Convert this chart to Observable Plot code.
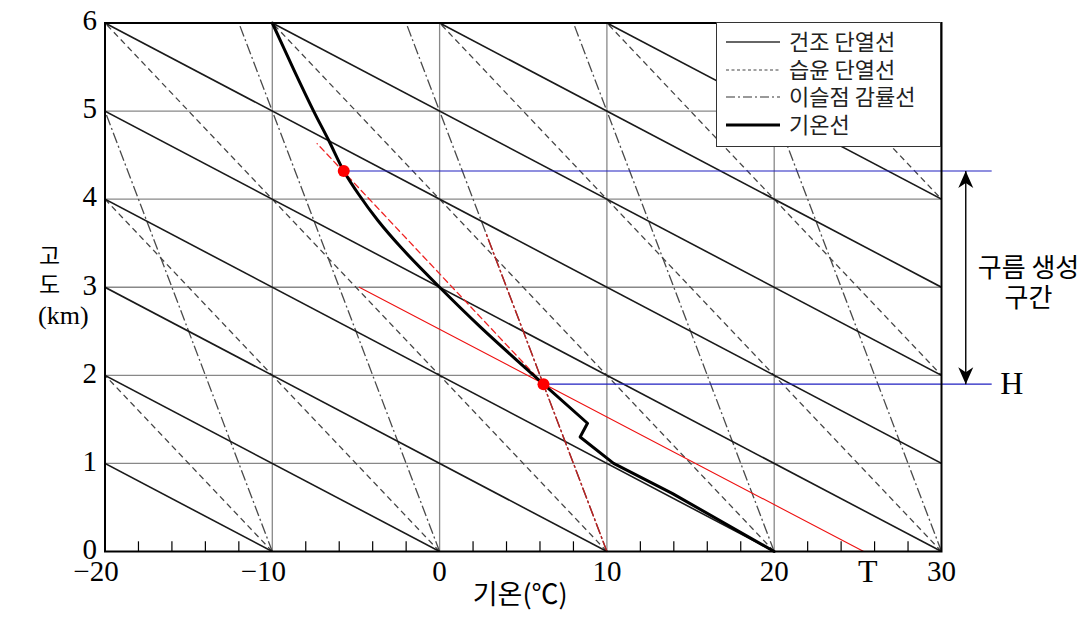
<!DOCTYPE html>
<html><head><meta charset="utf-8">
<script src="https://cdn.jsdelivr.net/npm/d3@7"></script>
<script src="https://cdn.jsdelivr.net/npm/@observablehq/plot@0.6"></script>
<style>
body{margin:0;background:#fff;}
#wrap{position:relative;width:1092px;height:621px;}
#legend{position:absolute;left:716px;top:22px;width:225px;height:125px;background:#fff;border:1.5px solid #333;box-sizing:border-box;}
#legend svg{position:absolute;left:0;top:0;}
</style></head><body><div id="wrap"></div>
<script>
// axes
const xTicks = [-20, -10, 0, 10, 20, 30];
const xMinorTicks = [-18,-16,-14,-12,-8,-6,-4,-2,2,4,6,8,12,14,16,18,22,24,26,28];
const yTicks = [0, 1, 2, 3, 4, 5, 6];
const gridX = [-10, 0, 10, 20];
const gridY = [1, 2, 3, 4, 5];
// background families: surface temperatures and lapse rates (°C/km)
const dryBase = [-10, 0, 10, 20, 30, 40, 50, 60, 70, 80, 90];
const dryLapse = 10;
const moistBase = [-10, 0, 10, 20, 30, 40, 50];
const moistLapse = 5;
const dewBase = [-10, 0, 10, 20, 30, 40];
const dewLapse = 2;
const topH = 6;
// observed temperature profile (lower straight part, upper smooth part)
const tempLowT = [20, 13.9, 10.4, 8.4, 8.84, 6.21];
const tempLowH = [0, 0.66, 1.0, 1.3, 1.456, 1.9];
const tempUpT = [6.21, 4.62, 2.43, 0, -2.3, -3.7, -4.82, -5.73, -6.61, -7.53, -8.69, -10];
const tempUpH = [1.9, 2.17, 2.55, 3.0, 3.45, 3.76, 4.05, 4.32, 4.66, 5.0, 5.46, 6];
// parcel lines (red)
const surfaceT = 25.35;
const redDryT = [surfaceT, -4.8], redDryH = [0, 3.0];
const redMoistT = [6.21, -7.32], redMoistH = [1.9, 4.63];
const redDewT = [10, 2.8], redDewH = [0, 3.6];
// cloud base / top
const cloudT = [6.21, -5.73];
const cloudH = [1.9, 4.32];
// annotation placement
const lineEndX = 33, arrowX = 31.45, hLabelX = 34.2, cloudLabelX = 35.2;
const legendLabels = ["건조 단열선", "습윤 단열선", "이슬점 감률선", "기온선"];
const yLabelParts = ["고", "도", "(km)"];
const cloudLabelLines = ["구름 생성", "구간"];

const toPts = (T, H) => T.map((t, i) => ({t, h: H[i]}));
const cloud = toPts(cloudT, cloudH);

const stealth = {draw(ctx) { ctx.moveTo(0, 0); ctx.lineTo(7.5, 17); ctx.lineTo(0, 12); ctx.lineTo(-7.5, 17); ctx.closePath(); }};

const KR = "'Noto Sans CJK KR', sans-serif";
const SERIF = "'Liberation Serif', 'DejaVu Serif', serif";
const DASHDOT = "11,3,2,3";
const fmt = d => d < 0 ? "\u2212" + (-d) : String(d);
const cloudMid = (cloudH[0] + cloudH[1]) / 2;

const chart = Plot.plot({
  width: 1092, height: 621,
  marginLeft: 104.5, marginRight: 151, marginTop: 22.5, marginBottom: 70,
  x: {domain: [-20, 30]},
  y: {domain: [0, 6]},
  style: {fontFamily: SERIF, fontSize: "29px", background: "#fff", color: "#000", overflow: "visible"},
  marks: [
    Plot.ruleX(gridX, {stroke: "#888", strokeWidth: 1.3}),
    Plot.ruleY(gridY, {stroke: "#888", strokeWidth: 1.3}),
    Plot.link(dewBase, {x1: d => d, y1: 0, x2: d => d - dewLapse * topH, y2: topH, stroke: "#4a4a4a", strokeWidth: 1.3, strokeDasharray: DASHDOT, clip: true}),
    Plot.link(moistBase, {x1: d => d, y1: 0, x2: d => d - moistLapse * topH, y2: topH, stroke: "#444", strokeWidth: 1.3, strokeDasharray: "6,4", clip: true}),
    Plot.link(dryBase, {x1: d => d, y1: 0, x2: d => d - dryLapse * topH, y2: topH, stroke: "#1a1a1a", strokeWidth: 1.6, clip: true}),
    Plot.line(toPts(redDryT, redDryH), {x: "t", y: "h", stroke: "#ee1111", strokeWidth: 1.1}),
    Plot.line(toPts(redMoistT, redMoistH), {x: "t", y: "h", stroke: "#ee2222", strokeWidth: 1.3, strokeDasharray: "6,4"}),
    Plot.line(toPts(redDewT, redDewH), {x: "t", y: "h", stroke: "#bb2222", strokeWidth: 1.4, strokeDasharray: DASHDOT}),
    Plot.line(toPts(tempLowT, tempLowH), {x: "t", y: "h", stroke: "#000", strokeWidth: 3, curve: "linear"}),
    Plot.line(toPts(tempUpT, tempUpH), {x: "t", y: "h", stroke: "#000", strokeWidth: 3, curve: "catmull-rom"}),
    Plot.link(cloud, {x1: "t", y1: "h", x2: lineEndX, y2: "h", stroke: "#2020c0", strokeWidth: 1.2}),
    Plot.dot(cloud, {x: "t", y: "h", r: 6, fill: "#ff0000"}),
    Plot.frame({stroke: "#000", strokeWidth: 2}),
    Plot.ruleX(xMinorTicks, {x: d => d, y1: 0, y2: 0.11, stroke: "#000", strokeWidth: 1.2}),
    Plot.axisY(yTicks, {tickSize: 0, tickPadding: 8, fontSize: 29, label: null, tickFormat: d => String(d), dy: -2}),
    Plot.axisX(xTicks.filter(d => d >= 0), {tickSize: 0, tickPadding: 9, fontSize: 29, label: null, tickFormat: fmt}),
    Plot.axisX(xTicks.filter(d => d < 0), {tickSize: 0, tickPadding: 9, fontSize: 29, label: null, tickFormat: fmt, dx: -9}),
    Plot.text([surfaceT], {x: d => d + 0.25, y: 0, text: () => "T", lineAnchor: "top", dy: 8, fontSize: 32}),
    Plot.link([0], {x1: arrowX, y1: cloudH[0], x2: arrowX, y2: cloudH[1], stroke: "#000", strokeWidth: 1.4}),
    Plot.dot([cloudH[1]], {x: arrowX, y: d => d, symbol: stealth, fill: "#000", stroke: "none"}),
    Plot.dot([cloudH[0]], {x: arrowX, y: d => d, symbol: stealth, fill: "#000", stroke: "none", rotate: 180}),
    Plot.text(["H"], {x: hLabelX, y: cloudH[0], fontSize: 32, textAnchor: "middle"}),
    Plot.text([cloudLabelLines[0]], {x: cloudLabelX, y: cloudMid, dy: -9, fontSize: 26, fontFamily: KR, textAnchor: "middle"}),
    Plot.text([cloudLabelLines[1]], {x: cloudLabelX, y: cloudMid, dy: 21, fontSize: 26, fontFamily: KR, textAnchor: "middle"}),
    Plot.text([yLabelParts[0]], {frameAnchor: "left", dx: -66, dy: -31, fontSize: 23, fontFamily: KR}),
    Plot.text([yLabelParts[1]], {frameAnchor: "left", dx: -66, dy: -2, fontSize: 23, fontFamily: KR}),
    Plot.text([yLabelParts[2]], {frameAnchor: "left", dx: -67, dy: 28, fontSize: 26}),
    Plot.text(["기온(℃)"], {frameAnchor: "bottom", dx: -3, dy: 52, fontSize: 27, fontFamily: KR})
  ]
});
const wrap = document.getElementById("wrap");
wrap.appendChild(chart);

// legend overlay
const leg = document.createElement("div");
leg.id = "legend";
wrap.appendChild(leg);
const legStyles = [
  {stroke: "#333", w: 1.5, dash: null},
  {stroke: "#444", w: 1.2, dash: "3,2.5"},
  {stroke: "#999", w: 2, dash: "9,3,2,3"},
  {stroke: "#000", w: 3, dash: null}
];
const rowsY = [19, 47, 74, 102];
const svg = d3.select(leg).append("svg").attr("width", 222).attr("height", 122);
legendLabels.forEach((lab, i) => {
  const s = legStyles[i];
  svg.append("line").attr("x1", 9).attr("x2", 63).attr("y1", rowsY[i]).attr("y2", rowsY[i])
    .attr("stroke", s.stroke).attr("stroke-width", s.w).attr("stroke-dasharray", s.dash);
  svg.append("text").attr("x", 72).attr("y", rowsY[i]).attr("dy", "0.36em")
    .attr("font-family", KR).attr("font-size", 22).attr("fill", "#222").text(lab);
});
</script>
</body></html>
